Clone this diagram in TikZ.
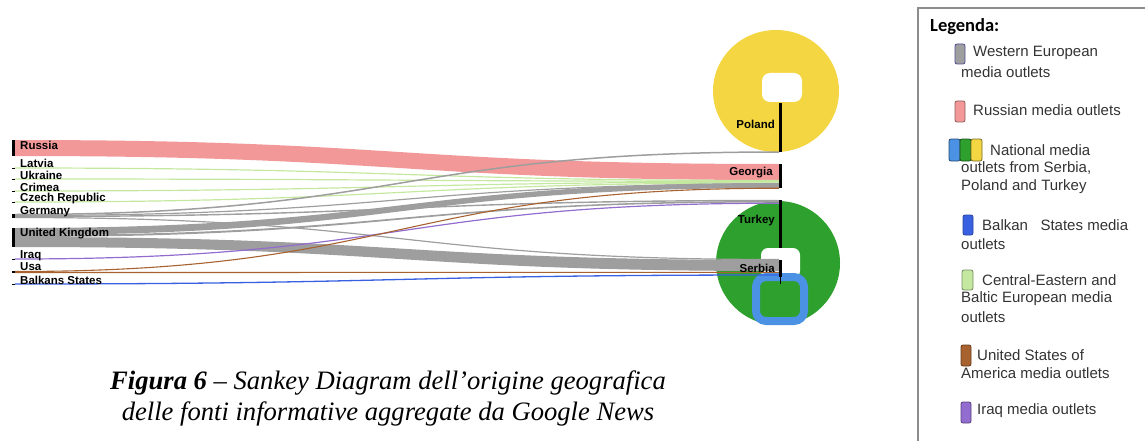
\documentclass[tikz,border=0pt]{standalone}
\usepackage{fontspec}
\setmainfont{Liberation Sans}
\newfontfamily\capfont{Liberation Serif}
\newfontfamily\legfont{Carlito}
\usetikzlibrary{calc}

\definecolor{rus}{RGB}{242,152,152}
\definecolor{ceb}{RGB}{196,232,160}
\definecolor{weu}{RGB}{158,158,158}
\definecolor{usa}{RGB}{168,98,48}
\definecolor{irq}{RGB}{146,108,206}
\definecolor{bks}{RGB}{56,96,224}
\definecolor{pol}{RGB}{244,214,66}
\definecolor{tur}{RGB}{46,160,46}
\definecolor{srb}{RGB}{76,146,228}

\def\xl{15}
\def\xr{779}
\def\xm{400}

\newcommand{\band}[5]{\fill[#5] (\xl,#1) .. controls (\xm,#1) and (\xm,#3) .. (\xr,#3) -- (\xr,#4) .. controls (\xm,#4) and (\xm,#2) .. (\xl,#2) -- cycle;}
\newcommand{\thread}[3]{\draw[#3] (\xl,#1) .. controls (\xm,#1) and (\xm,#2) .. (\xr,#2);}

\tikzset{
	lbl/.style={font=\bfseries\fontsize{11.5}{12}\selectfont, inner sep=0pt},
	leg/.style={font=\fontsize{15}{16}\selectfont, inner sep=0pt, anchor=west, text=black!80},
	swatch/.style={rounded corners=2pt, line width=0.8pt},
	bar/.style={line width=3pt},
	capt/.style={inner sep=0pt, font=\capfont\itshape\fontsize{26.6}{30}\selectfont},
}

\begin{document}
\begin{tikzpicture}[x=1pt, y=-1pt]
	\useasboundingbox (0,0) rectangle (1145,441);
	\clip (0,0) rectangle (1145,441);
	
	\begin{scope}
		\fill[pol] (776,91) ellipse [x radius=63pt, y radius=61pt];
		\fill[white, rounded corners=8pt] (762,73) rectangle (802,102);
		\fill[tur] (778,263) circle [radius=62pt];
		\fill[white, rounded corners=7pt] (761,248) rectangle (800,278);
		\draw[srb, line width=8pt, rounded corners=10pt] (756,277) rectangle (804,321);
	\end{scope}
	
	\begin{scope}
		\band{140}{156}{164}{180}{rus}
		\thread{168}{180.5}{ceb, line width=1.2pt}
		\thread{179}{181.3}{ceb, line width=1.2pt}
		\thread{191}{182.1}{ceb, line width=1.2pt}
		\thread{202}{182.9}{ceb, line width=1.2pt}
		\band{228}{235}{183}{188}{weu}
		\thread{214.5}{152}{weu, line width=1.5pt}
		\thread{215.5}{184}{weu, line width=1.2pt}
		\thread{216.5}{200.5}{weu, line width=1.4pt}
		\thread{217.5}{259.5}{weu, line width=1.2pt}
		\band{235}{237}{201}{202.5}{weu}
		\band{237}{247}{260}{271}{weu}
		\thread{259}{203.2}{irq, line width=1.2pt}
		\thread{271.5}{188.2}{usa, line width=1.1pt}
		\thread{272.5}{272.3}{usa, line width=1.1pt}
		\thread{284}{275}{bks, line width=1.3pt}
	\end{scope}
	
	\begin{scope}[bar]
		\draw (13.5,140) -- (13.5,156);
		\draw (13.5,167.5) -- (13.5,168.5);
		\draw (13.5,178.5) -- (13.5,179.5);
		\draw (13.5,190.5) -- (13.5,191.5);
		\draw (13.5,201.5) -- (13.5,202.5);
		\draw (13.5,214) -- (13.5,218);
		\draw (13.5,228) -- (13.5,247);
		\draw (13.5,258.5) -- (13.5,259.5);
		\draw (13.5,271) -- (13.5,273);
		\draw (13.5,283.5) -- (13.5,284.5);
		\draw (780.5,103) -- (780.5,152);
		\draw (780.5,164) -- (780.5,188);
		\draw (780.5,200) -- (780.5,248);
		\draw (780.5,260) -- (780.5,277);
		\draw[line width=1.2pt] (780.5,277) -- (780.5,284);
	\end{scope}
	
	\begin{scope}[every node/.style={lbl, anchor=west}]
		\node (russia) at (20,145) {Russia};
		\node (latvia) at (20,163) {Latvia};
		\node (ukraine) at (20,175) {Ukraine};
		\node (crimea) at (20,187) {Crimea};
		\node (czech) at (20,199) {Czech Republic};
		\node (germany) at (20,212) {Germany};
		\node (uk) at (20,234) {United Kingdom};
		\node (iraq) at (20,256) {Iraq};
		\node (usa) at (20,267) {Usa};
		\node (balkans) at (20,280) {Balkans States};
	\end{scope}
	
	\begin{scope}[every node/.style={lbl, anchor=east}]
		\node (poland) at (775,124) {Poland};
		\node (georgia) at (773,173) {Georgia};
		\node (turkey) at (775,221) {Turkey};
		\node (serbia) at (775,268) {Serbia};
	\end{scope}
	
	\begin{scope}
		\draw[black!45, line width=1.2pt] (918,8) rectangle (1165,460);
		\node[anchor=west, inner sep=0pt, font=\legfont\bfseries\fontsize{18.5}{20}\selectfont] (legenda) at (930,27) {Legenda:};
		
		\filldraw[swatch, fill=weu, draw=black!30!blue!40!gray] (955,44) rectangle (965,64);
		\node[leg] (weutxt) at (973,53) {Western European};
		\node[leg] at (961,72) {media outlets};
		
		\filldraw[swatch, fill=rus, draw=rus!60!black] (955,101) rectangle (965,122);
		\node[leg] (rustxt) at (973,110) {Russian media outlets};
		
		\filldraw[swatch, fill=srb, draw=srb!50!black] (949,139) rectangle (960,161);
		\filldraw[swatch, fill=tur, draw=tur!50!black] (960,139) rectangle (971,161);
		\filldraw[swatch, fill=pol, draw=pol!50!black] (971,139) rectangle (982,161);
		\node[leg] (nattxt) at (990,150) {National media};
		\node[leg] at (961,168) {outlets from Serbia,};
		\node[leg] at (961,187) {Poland and Turkey};
		
		\filldraw[swatch, fill=bks, draw=bks!70!black] (963,215) rectangle (973,235);
		\node[leg] (bkstxt) at (982,225) {Balkan\ \ \ States media};
		\node[leg] at (961,244) {outlets};
		
		\filldraw[swatch, fill=ceb, draw=ceb!60!black] (962,270) rectangle (973,290);
		\node[leg] (cebtxt) at (982,280) {Central-Eastern and};
		\node[leg] at (961,299) {Baltic European media};
		\node[leg] at (961,317) {outlets};
		
		\filldraw[swatch, fill=usa, draw=usa!60!black] (961,345) rectangle (971,366);
		\node[leg] (usatxt) at (977,355) {United States of};
		\node[leg] at (961,373) {America media outlets};
		
		\filldraw[swatch, fill=irq, draw=irq!60!black] (961,402) rectangle (971,423);
		\node[leg] (irqtxt) at (977,411) {Iraq media outlets};
	\end{scope}
	
	\node[capt] (cap1) at (388,383) {\textbf{Figura 6} – Sankey Diagram dell’origine geografica};
	\node[capt] (cap2) at (388,414) {delle fonti informative aggregate da Google News};
\end{tikzpicture}
\end{document}
